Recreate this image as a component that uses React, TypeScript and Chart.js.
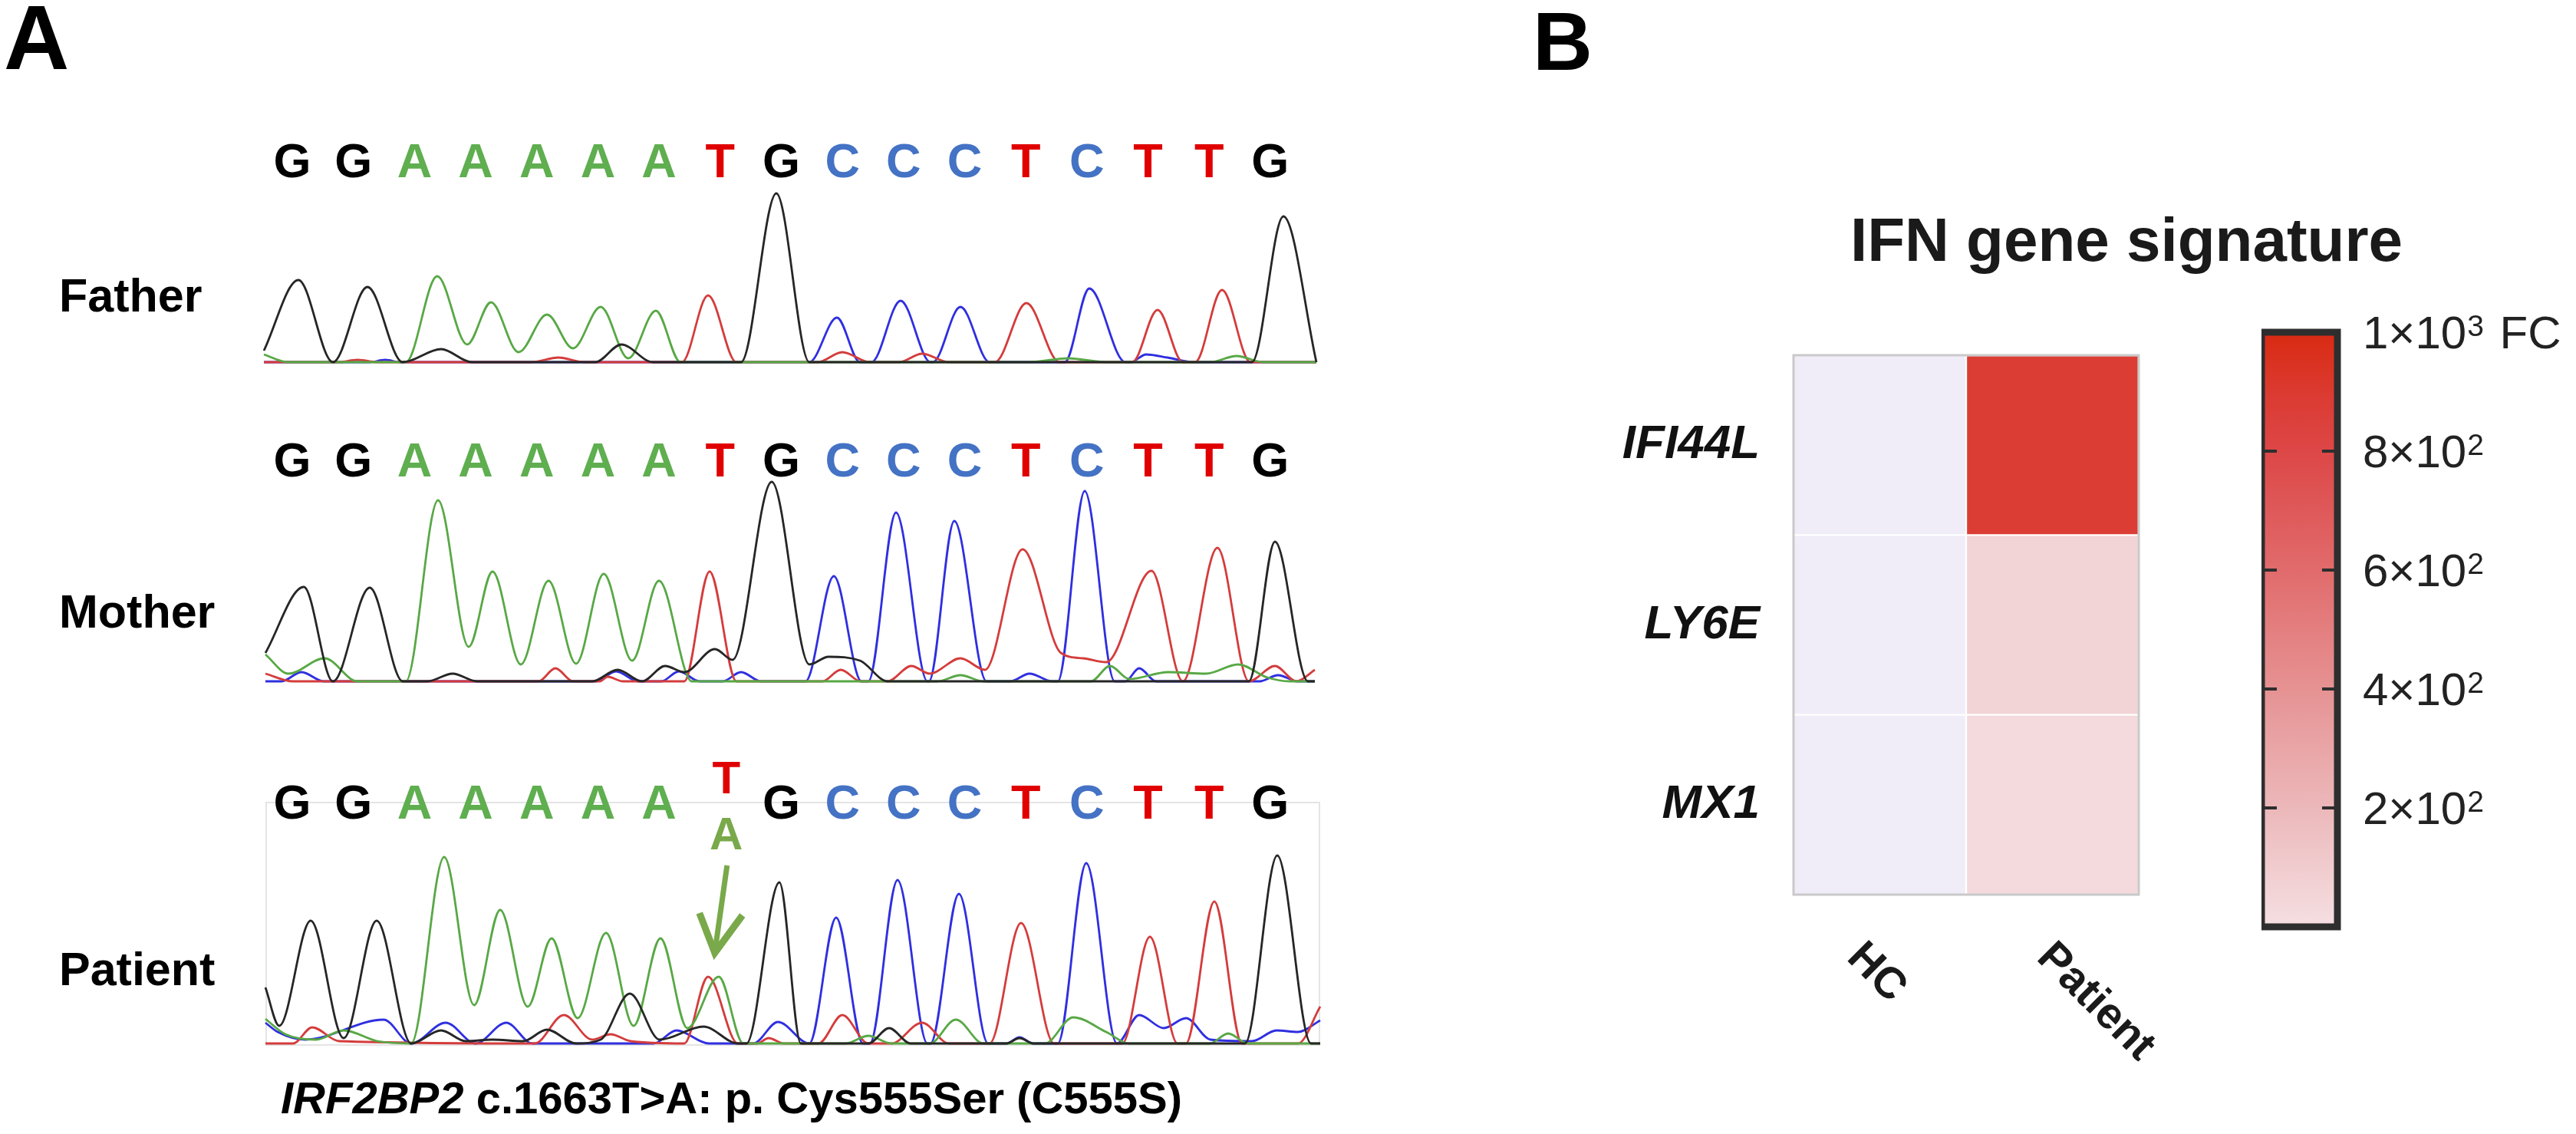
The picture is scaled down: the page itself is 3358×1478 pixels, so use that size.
import React, { useEffect, useRef } from "react";
import { Chart, registerables } from "chart.js";

Chart.register(...registerables);

const FONT = '"Liberation Sans", Arial, Helvetica, sans-serif';

// ---------------- Panel A: sequence & traces ----------------
const BASES = ["G", "G", "A", "A", "A", "A", "A", "T", "G", "C", "C", "C", "T", "C", "T", "T", "G"];
const LETTER_COLORS: Record<string, string> = { G: "#000000", A: "#5fae4f", T: "#e00000", C: "#4472c4" };
const TRACE_COLORS: Record<string, string> = { G: "#262626", A: "#58a845", T: "#d43c3c", C: "#2f2fe0" };
const CHANNELS = ["G", "A", "T", "C"];
const SAMPLES = ["Father", "Mother", "Patient"];
const VARIANT = { index: 7, ref: "T", alt: "A" };
const VARIANT_COLOR = "#79a94a";
const SCAN_MAX = 1380;
const BASE_AXIS_MIN = -0.49;
const BASE_AXIS_MAX = 16.83;

type Pt = [number, number];

// trace points: [scan position, signal]
const FATHER_G: Pt[] = [[2, 15], [47, 107], [92, 0], [137, 98], [183, 0], [233, 17], [273, 0], [434, 0], [468, 23], [509, 0], [624, 0], [670, 220], [713, 0], [1290, 0], [1331, 190], [1374, 0]];
const FATHER_A: Pt[] = [[2, 10], [33, 0], [187, 0], [228, 112], [267, 23], [298, 78], [334, 13], [371, 62], [405, 18], [441, 72], [477, 5], [513, 67], [545, 0], [1000, 0], [1050, 5], [1100, 0], [1235, 0], [1270, 8], [1305, 0], [1374, 0]];
const FATHER_T: Pt[] = [[2, 0], [100, 0], [124, 3], [150, 0], [350, 0], [386, 6], [420, 0], [547, 0], [581, 87], [618, 0], [724, 0], [756, 13], [792, 0], [830, 0], [860, 11], [895, 0], [955, 0], [996, 77], [1039, 0], [1134, 0], [1167, 68], [1200, 0], [1216, 0], [1251, 94], [1288, 0], [1374, 0]];
const FATHER_C: Pt[] = [[2, 0], [140, 0], [160, 3], [180, 0], [713, 0], [749, 58], [779, 0], [794, 0], [832, 80], [871, 0], [874, 0], [910, 72], [948, 0], [1046, 0], [1078, 96], [1125, 0], [1132, 0], [1152, 10], [1180, 6], [1215, 0], [1374, 0]];

const MOTHER_G: Pt[] = [[4, 37], [54, 123], [92, 0], [140, 122], [183, 0], [215, 0], [248, 10], [280, 0], [430, 0], [463, 15], [495, 0], [525, 20], [550, 12], [590, 42], [613, 28], [664, 260], [713, 22], [738, 32], [779, 27], [815, 0], [1286, 0], [1320, 182], [1363, 0], [1372, 0]];
const MOTHER_A: Pt[] = [[4, 35], [34, 10], [81, 30], [124, 0], [187, 0], [229, 236], [269, 45], [300, 143], [337, 22], [373, 131], [409, 23], [445, 140], [482, 27], [517, 131], [560, 0], [880, 0], [910, 8], [940, 0], [1080, 0], [1105, 20], [1130, 3], [1181, 12], [1230, 10], [1272, 22], [1310, 5], [1340, 0], [1372, 0]];
const MOTHER_T: Pt[] = [[4, 10], [40, 0], [360, 0], [382, 17], [405, 0], [440, 0], [450, 6], [470, 0], [550, 0], [583, 143], [618, 0], [730, 0], [754, 15], [780, 0], [815, 0], [846, 20], [870, 10], [910, 30], [942, 15], [991, 172], [1041, 37], [1070, 30], [1100, 25], [1159, 144], [1200, 0], [1245, 174], [1286, 0], [1320, 20], [1348, 0], [1372, 15]];
const MOTHER_C: Pt[] = [[4, 0], [25, 0], [51, 12], [80, 0], [435, 0], [461, 13], [490, 0], [520, 0], [543, 13], [570, 0], [600, 0], [624, 12], [650, 0], [708, 0], [745, 137], [781, 0], [790, 0], [826, 220], [867, 0], [869, 0], [902, 209], [944, 0], [975, 0], [1000, 10], [1030, 0], [1037, 0], [1072, 248], [1111, 0], [1125, 0], [1143, 17], [1165, 0], [1300, 0], [1324, 8], [1350, 0], [1372, 0]];

const PATIENT_G: Pt[] = [[4, 73], [22, 23], [63, 160], [106, 7], [149, 160], [194, 0], [233, 17], [265, 3], [300, 5], [340, 3], [371, 18], [409, 0], [441, 5], [479, 65], [518, 5], [575, 22], [620, 0], [631, 0], [674, 210], [702, 0], [790, 0], [817, 20], [845, 0], [970, 0], [987, 7], [1005, 0], [1281, 0], [1323, 245], [1367, 0], [1379, 0]];
const PATIENT_A: Pt[] = [[4, 32], [30, 12], [70, 5], [106, 17], [150, 3], [194, 0], [237, 243], [276, 50], [310, 174], [346, 48], [377, 137], [411, 33], [448, 144], [484, 23], [519, 137], [554, 20], [595, 87], [627, 0], [760, 0], [790, 10], [820, 0], [870, 0], [904, 31], [940, 0], [1020, 0], [1057, 34], [1100, 15], [1130, 0], [1235, 0], [1259, 13], [1285, 0], [1379, 0]];
const PATIENT_T: Pt[] = [[4, 0], [40, 0], [65, 21], [100, 3], [355, 0], [393, 37], [430, 5], [454, 12], [480, 3], [550, 0], [581, 87], [620, 0], [645, 0], [660, 7], [680, 0], [725, 0], [756, 37], [790, 0], [820, 0], [860, 27], [895, 0], [948, 0], [989, 157], [1032, 0], [1121, 0], [1157, 139], [1193, 0], [1204, 0], [1241, 185], [1277, 0], [1350, 0], [1379, 48]];
const PATIENT_C: Pt[] = [[4, 27], [20, 15], [56, 5], [158, 31], [194, 0], [239, 27], [278, 0], [318, 27], [352, 0], [510, 0], [540, 17], [582, 0], [640, 0], [672, 28], [713, 0], [748, 164], [783, 0], [792, 0], [828, 213], [867, 0], [871, 0], [908, 195], [946, 0], [970, 0], [987, 8], [1005, 0], [1037, 0], [1074, 235], [1114, 0], [1143, 37], [1175, 20], [1204, 33], [1236, 5], [1290, 3], [1322, 17], [1350, 15], [1379, 30]];

// ---------------- Panel B: heatmap ----------------
const GENES = ["IFI44L", "LY6E", "MX1"];
const GROUPS = ["HC", "Patient"];
const FC_HC = [1, 1, 1];
const FC_PATIENT = [880, 60, 28];
const CB_MIN = 0;
const CB_MAX = 1000;
const CB_TICKS = [200, 400, 600, 800, 1000];
const CB_LABEL_BASE = ["2×10", "4×10", "6×10", "8×10", "1×10"];
const CB_LABEL_EXP = ["2", "2", "2", "2", "3"];
const CB_UNIT = "FC";
const REFERENCE_FC = 1;
const REFERENCE_COLOR = "#f0ecf8";
const COLOR_STOPS: [number, string][] = [
  [0, "#f5dfe2"],
  [200, "#ecb8ba"],
  [400, "#e69293"],
  [600, "#e16b6c"],
  [800, "#dd4747"],
  [900, "#db3a30"],
  [1000, "#d92a12"],
];

function hexToRgb(h: string) {
  const n = parseInt(h.slice(1), 16);
  return [(n >> 16) & 255, (n >> 8) & 255, n & 255];
}

function fcColor(v: number) {
  if (v <= REFERENCE_FC) return REFERENCE_COLOR;
  const c = Math.min(CB_MAX, Math.max(CB_MIN, v));
  for (let i = 1; i < COLOR_STOPS.length; i++) {
    const [v0, c0] = COLOR_STOPS[i - 1];
    const [v1, c1] = COLOR_STOPS[i];
    if (c <= v1) {
      const t = (c - v0) / (v1 - v0);
      const a = hexToRgb(c0);
      const b = hexToRgb(c1);
      const m = a.map((x, k) => Math.round(x + (b[k] - x) * t));
      return `rgb(${m[0]},${m[1]},${m[2]})`;
    }
  }
  return COLOR_STOPS[COLOR_STOPS.length - 1][1];
}

type Box = { left: number; top: number; width: number; height: number };

function letterPlugin(letterY: number, variant: any) {
  return {
    id: "seqLetters",
    afterDraw(chart: any) {
      const { ctx } = chart;
      const xb = chart.scales.xb;
      ctx.save();
      ctx.textAlign = "center";
      ctx.textBaseline = "alphabetic";
      BASES.forEach((b, i) => {
        const x = xb.getPixelForValue(i);
        if (variant && i === variant.index) {
          ctx.font = `bold 60px ${FONT}`;
          ctx.fillStyle = LETTER_COLORS[variant.ref];
          ctx.fillText(variant.ref, x + 8, variant.refY);
          ctx.fillStyle = VARIANT_COLOR;
          ctx.fillText(variant.alt, x + 8, variant.altY);
          // arrow
          ctx.strokeStyle = VARIANT_COLOR;
          ctx.lineWidth = 7;
          ctx.lineCap = "butt";
          ctx.beginPath();
          ctx.moveTo(x + 9, variant.arrowTop);
          ctx.lineTo(x - 6, variant.arrowTip - 8);
          ctx.stroke();
          ctx.lineWidth = 9;
          ctx.lineJoin = "miter";
          ctx.beginPath();
          ctx.moveTo(x - 27, variant.arrowTip - 52);
          ctx.lineTo(x - 7, variant.arrowTip);
          ctx.lineTo(x + 29, variant.arrowTip - 49);
          ctx.stroke();
        } else {
          ctx.font = `bold 63px ${FONT}`;
          ctx.fillStyle = LETTER_COLORS[b];
          ctx.fillText(b, x, letterY);
        }
      });
      ctx.restore();
    },
  };
}

function Chromatogram(props: {
  traces: Record<string, Pt[]>;
  box: Box;
  padTop: number;
  yMin: number;
  yMax: number;
  letterY: number;
  variant?: any;
}) {
  const ref = useRef<HTMLCanvasElement>(null);
  useEffect(() => {
    const chart = new Chart(ref.current as HTMLCanvasElement, {
      type: "line",
      data: {
        datasets: CHANNELS.map((ch) => ({
          label: ch,
          data: props.traces[ch].map(([x, y]) => ({ x, y })),
          borderColor: TRACE_COLORS[ch],
          borderWidth: 2.8,
          pointRadius: 0,
          cubicInterpolationMode: "monotone",
          fill: false,
        })),
      } as any,
      options: {
        animation: false,
        responsive: true,
        maintainAspectRatio: false,
        events: [],
        layout: { padding: { top: props.padTop, left: 0, right: 0, bottom: 0 } },
        scales: {
          x: { type: "linear", min: 0, max: SCAN_MAX, display: false },
          y: { type: "linear", min: props.yMin, max: props.yMax, display: false },
          xb: { type: "linear", axis: "x", position: "top", min: BASE_AXIS_MIN, max: BASE_AXIS_MAX, display: false },
        } as any,
        plugins: { legend: { display: false }, tooltip: { enabled: false } },
      },
      plugins: [letterPlugin(props.letterY, props.variant)],
    });
    return () => chart.destroy();
  }, []);
  const b = props.box;
  return (
    <div style={{ position: "absolute", left: b.left, top: b.top, width: b.width, height: b.height }}>
      <canvas ref={ref} />
    </div>
  );
}

function Heatmap() {
  const ref = useRef<HTMLCanvasElement>(null);
  useEffect(() => {
    const values = [FC_HC, FC_PATIENT];
    const chart = new Chart(ref.current as HTMLCanvasElement, {
      type: "bar",
      data: {
        labels: GENES,
        datasets: GROUPS.map((g, j) => ({
          label: g,
          data: GENES.map(() => 1),
          backgroundColor: (c: any) => fcColor(values[j][c.dataIndex]),
          borderColor: "#ffffff",
          borderWidth: 1.5,
          borderSkipped: false,
          barPercentage: 1,
          categoryPercentage: 1,
        })),
      } as any,
      options: {
        indexAxis: "y",
        animation: false,
        responsive: true,
        maintainAspectRatio: false,
        events: [],
        layout: { padding: { top: 23, right: 42, bottom: 254, left: 0 } },
        scales: {
          x: { stacked: true, min: 0, max: GROUPS.length, display: false },
          y: {
            stacked: true,
            grid: { display: false, drawTicks: false },
            border: { display: false },
            ticks: { color: "#111", padding: 44, font: { family: FONT, size: 62, style: "italic", weight: "bold" } },
            afterFit: (s: any) => {
              s.width = 278;
              s.paddingTop = 0;
              s.paddingBottom = 0;
            },
          },
        } as any,
        plugins: { legend: { display: false }, tooltip: { enabled: false } },
      },
      plugins: [
        {
          id: "heatFrame",
          afterDatasetsDraw(chart: any) {
            const { ctx, chartArea: a } = chart;
            ctx.save();
            ctx.strokeStyle = "#c9c9c9";
            ctx.lineWidth = 3;
            ctx.strokeRect(a.left, a.top, a.right - a.left, a.bottom - a.top);
            ctx.restore();
          },
          afterDraw(chart: any) {
            const { ctx, chartArea: a } = chart;
            ctx.save();
            ctx.font = `bold 57px ${FONT}`;
            ctx.fillStyle = "#1a1a1a";
            ctx.textAlign = "left";
            ctx.textBaseline = "middle";
            GROUPS.forEach((g, j) => {
              const meta = chart.getDatasetMeta(j);
              const el = meta.data[meta.data.length - 1];
              const p = el.getProps(["x", "base"], true);
              const cx = (p.x + p.base) / 2;
              const w = ctx.measureText(g).width;
              ctx.save();
              ctx.translate(cx - 51 + 0.21 * w, a.bottom + 73);
              ctx.rotate(Math.PI / 4);
              ctx.fillText(g, 0, 0);
              ctx.restore();
            });
            ctx.restore();
          },
        },
      ],
    });
    return () => chart.destroy();
  }, []);
  return (
    <div style={{ position: "absolute", left: 2060, top: 440, width: 770, height: 980 }}>
      <canvas ref={ref} />
    </div>
  );
}

function ColorBar() {
  const ref = useRef<HTMLCanvasElement>(null);
  useEffect(() => {
    const chart = new Chart(ref.current as HTMLCanvasElement, {
      type: "bar",
      data: {
        labels: [CB_UNIT],
        datasets: [
          {
            data: [CB_MAX],
            backgroundColor: (c: any) => {
              const ch = c.chart;
              const y = ch.scales.y;
              if (!ch.chartArea || !y) return COLOR_STOPS[0][1];
              const g = ch.ctx.createLinearGradient(0, y.getPixelForValue(CB_MIN), 0, y.getPixelForValue(CB_MAX));
              COLOR_STOPS.forEach(([v, col]) => g.addColorStop((v - CB_MIN) / (CB_MAX - CB_MIN), col));
              return g;
            },
            borderWidth: 0,
            barPercentage: 1,
            categoryPercentage: 1,
          },
        ],
      } as any,
      options: {
        animation: false,
        responsive: true,
        maintainAspectRatio: false,
        events: [],
        layout: { padding: { top: 53, bottom: 52, left: 0, right: 0 } },
        scales: {
          x: { display: false },
          y: {
            position: "right",
            min: CB_MIN,
            max: CB_MAX,
            grid: { display: false, drawTicks: false },
            border: { display: false },
            ticks: { display: false, stepSize: 200 },
            afterFit: (s: any) => {
              s.width = 311;
              s.paddingTop = 0;
              s.paddingBottom = 0;
            },
          },
        } as any,
        plugins: { legend: { display: false }, tooltip: { enabled: false } },
      },
      plugins: [
        {
          id: "cbFrame",
          afterDatasetsDraw(chart: any) {
            const { ctx, chartArea: a } = chart;
            const y = chart.scales.y;
            ctx.save();
            ctx.strokeStyle = "#2e2e2e";
            ctx.lineWidth = 9;
            ctx.strokeRect(a.left, a.top, a.right - a.left, a.bottom - a.top);
            ctx.lineWidth = 4;
            CB_TICKS.filter((t) => t < CB_MAX).forEach((t) => {
              const py = y.getPixelForValue(t);
              ctx.beginPath();
              ctx.moveTo(a.left, py);
              ctx.lineTo(a.left + 20, py);
              ctx.moveTo(a.right - 20, py);
              ctx.lineTo(a.right, py);
              ctx.stroke();
            });
            // tick labels with superscript exponents
            ctx.fillStyle = "#222";
            ctx.textAlign = "left";
            ctx.textBaseline = "alphabetic";
            CB_TICKS.forEach((t, i) => {
              const py = y.getPixelForValue(t);
              const x0 = a.right + 33;
              const base = py + 21;
              ctx.font = `60px ${FONT}`;
              ctx.fillText(CB_LABEL_BASE[i], x0, base);
              let x = x0 + ctx.measureText(CB_LABEL_BASE[i]).width + 1;
              ctx.font = `39px ${FONT}`;
              ctx.fillText(CB_LABEL_EXP[i], x, base - 16);
              x += ctx.measureText(CB_LABEL_EXP[i]).width;
              if (t === CB_MAX) {
                ctx.font = `60px ${FONT}`;
                ctx.fillText(" " + CB_UNIT, x + 4, base);
              }
            });
            ctx.restore();
          },
        },
      ],
    });
    return () => chart.destroy();
  }, []);
  return (
    <div style={{ position: "absolute", left: 2948, top: 380, width: 410, height: 880 }}>
      <canvas ref={ref} />
    </div>
  );
}

function Txt(props: { left: number; top: number; size: number; children: any; style?: any }) {
  return (
    <div
      style={{
        position: "absolute",
        left: props.left,
        top: props.top,
        fontSize: props.size,
        lineHeight: 1,
        fontWeight: "bold",
        whiteSpace: "nowrap",
        fontFamily: FONT,
        color: "#000",
        ...(props.style || {}),
      }}
    >
      {props.children}
    </div>
  );
}

export default function App() {
  const rows = [
    { name: SAMPLES[0], traces: { G: FATHER_G, A: FATHER_A, T: FATHER_T, C: FATHER_C }, box: { left: 342, top: 170, width: 1380, height: 310 }, padTop: 60, yMin: -8, yMax: 242, letterY: 61, labelTop: 355 },
    { name: SAMPLES[1], traces: { G: MOTHER_G, A: MOTHER_A, T: MOTHER_T, C: MOTHER_C }, box: { left: 342, top: 560, width: 1380, height: 340 }, padTop: 50, yMin: -12, yMax: 278, letterY: 61, labelTop: 767 },
    { name: SAMPLES[2], traces: { G: PATIENT_G, A: PATIENT_A, T: PATIENT_T, C: PATIENT_C }, box: { left: 342, top: 960, width: 1380, height: 410 }, padTop: 150, yMin: -10, yMax: 250, letterY: 107, labelTop: 1233,
      variant: { ...VARIANT, refY: 74, altY: 147, arrowTop: 168, arrowTip: 282 } },
  ];
  return (
    <div style={{ position: "absolute", left: 0, top: 0, width: 3358, height: 1478, background: "#ffffff", overflow: "hidden" }}>
      <Txt left={5} top={-10} size={118}>A</Txt>
      <Txt left={1998} top={0} size={108}>B</Txt>
      <div style={{ position: "absolute", left: 346, top: 1045, width: 1375, height: 318, border: "2px solid #e4e4e4", boxSizing: "border-box" }} />
      {rows.map((r) => (
        <React.Fragment key={r.name}>
          <Txt left={77} top={r.labelTop} size={61}>{r.name}</Txt>
          <Chromatogram traces={r.traces} box={r.box} padTop={r.padTop} yMin={r.yMin} yMax={r.yMax} letterY={r.letterY} variant={(r as any).variant} />
        </React.Fragment>
      ))}
      <Txt left={366} top={1402} size={58}>
        <i>IRF2BP2</i> c.1663T&gt;A: p. Cys555Ser (C555S)
      </Txt>
      <Txt left={2372} top={273} size={80} style={{ width: 800, textAlign: "center", color: "#1a1a1a" }}>
        IFN gene signature
      </Txt>
      <Heatmap />
      <ColorBar />
    </div>
  );
}
